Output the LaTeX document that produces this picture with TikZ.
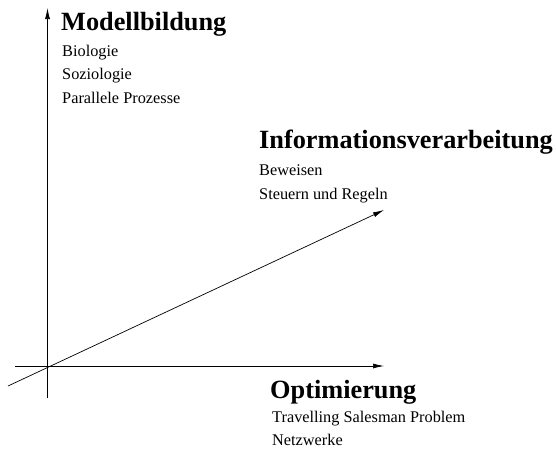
\documentclass[tikz,border=0pt]{standalone}
\usepackage{fontspec}
\setmainfont{Liberation Serif}
\usetikzlibrary{arrows.meta}

\tikzset{
  achse/.style = {line width=0.7pt, -{Latex[length=11pt, width=5pt]}},
  titel/.style = {anchor=base west, inner sep=0pt, font=\fontsize{26.3}{30}\selectfont\bfseries},
  punkt/.style = {anchor=base west, inner sep=0pt, font=\fontsize{16.3}{20}\selectfont},
}

\begin{document}
\begin{tikzpicture}[x=1pt, y=-1pt]
		\useasboundingbox (0,0) rectangle (556,450);
		% Achsen
		\coordinate (O) at (47.5,366);
		\coordinate (yu) at (47.5,398);
		\coordinate (yo) at (47.5,8);
		\coordinate (xl) at (15,366);
		\coordinate (xr) at (384,366);
		\coordinate (dl) at (8,386);
		\coordinate (dr) at (384,210);
		\draw [achse] (yu) -- (yo);
		\draw [achse] (xl) -- (xr);
		\draw [achse] (dl) -- (dr);
		% Beschriftungen
		\node [titel] (modell) at (61,30) {Modellbildung};
		\node [punkt] (bio) at (62,56) {Biologie};
		\node [punkt] (sozio) at (62,79.5) {Soziologie};
		\node [punkt] (para) at (62,103) {Parallele Prozesse};
		\node [titel] (info) at (259,148) {Informationsverarbeitung};
		\node [punkt] (bew) at (259,175) {Beweisen};
		\node [punkt] (steu) at (259,199) {Steuern und Regeln};
		\node [titel] (opt) at (270,398) {Optimierung};
		\node [punkt] (tsp) at (272,422) {Travelling Salesman Problem};
		\node [punkt] (netz) at (272,445) {Netzwerke};
\end{tikzpicture}
\end{document}
